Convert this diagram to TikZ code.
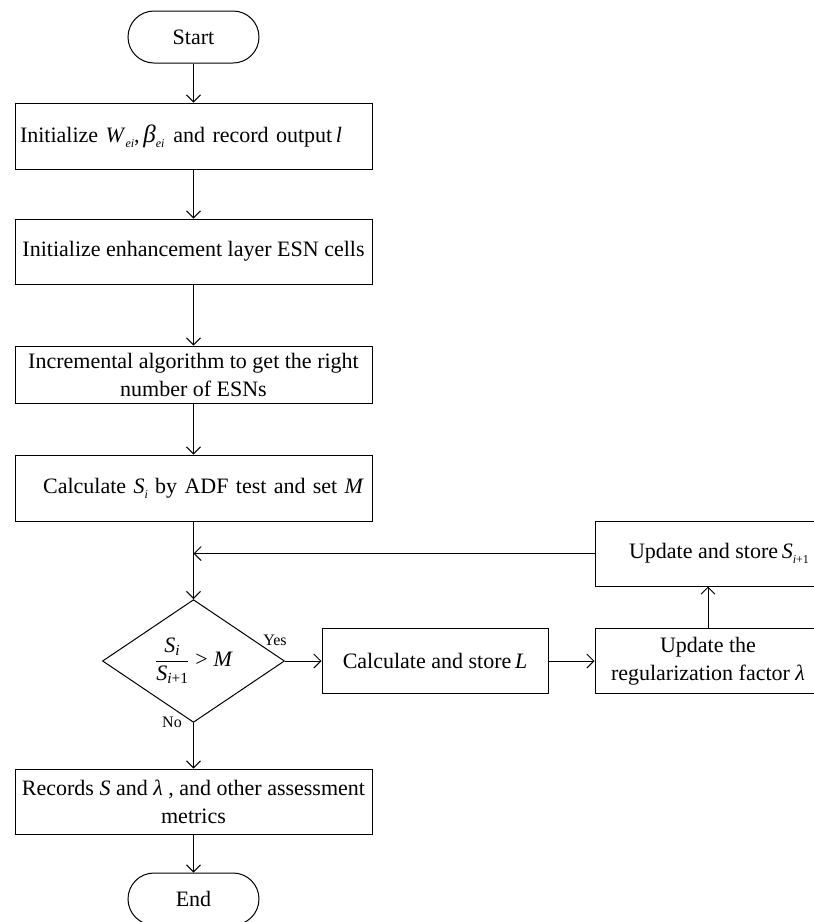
\documentclass[tikz,border=0pt]{standalone}
\usepackage{amsmath}
\usepackage{fontspec}
\setmainfont{Liberation Serif}
\usetikzlibrary{arrows.meta,shapes.geometric}
\tikzset{
  base/.style={draw, line width=1pt, inner sep=5pt, font=\fontsize{22}{28}\selectfont},
  procbox/.style={base, rectangle, minimum width=357pt, minimum height=65pt, align=center},
  sidebox/.style={base, rectangle, minimum width=226pt, minimum height=65pt, align=center},
  term/.style={base, rectangle, rounded corners=26pt, minimum width=131pt, minimum height=52pt},
  decide/.style={base, diamond, minimum width=182pt, minimum height=90pt, inner sep=0pt},
  arr/.style={line width=1pt, -{Straight Barb[length=7pt,width=14pt,line width=1pt]}},
  lbl/.style={font=\fontsize{16}{18}\selectfont, inner sep=0pt}
}
\newcommand{\iv}[1]{\textit{#1}}
\newcommand{\sbs}[1]{\raisebox{-5pt}{\fontsize{12}{12}\selectfont #1}}
\begin{document}
\begin{tikzpicture}[x=1pt,y=-1pt]
\useasboundingbox (0,0) rectangle (814,922);
\clip (0,0) rectangle (814,922);
\node[term] (start) at (193.5,37) {Start};
\node[procbox, text width=347pt, align=left, minimum height=66pt] (b1) at (193.5,136)
  {Initialize \iv{W}\sbs{\itshape ei},\,{\fontsize{25}{28}\selectfont\iv{β}}\sbs{\itshape ei}\hspace{9pt}and record output\,\iv{l}};
\node[procbox] (b2) at (193.5,251.5) {Initialize enhancement layer ESN cells};
\node[procbox, minimum height=57pt] (b3) at (193.5,374.5) {Incremental algorithm to get the right\\number of ESNs};
\node[procbox, text width=341pt, align=right, minimum height=66pt] (b4) at (193.5,488)
  {Calculate \iv{S}\sbs{\itshape i} by ADF test and set \iv{M}};
\node[decide] (dec) at (193.5,661)
  {$\dfrac{\text{\itshape S}_{\text{\itshape i}}}{\text{\itshape S}_{\text{\itshape i}\text{+1}}}\mathrel{\text{>}}\text{\itshape M}$};
\node[sidebox] (calcL) at (435,661) {Calculate and store\,\iv{L}};
\node[sidebox] (lam) at (708,661) {Update the\\regularization factor \iv{λ}};
\node[sidebox] (supd) at (708,553.5) {\hspace*{22pt}Update and store\,\iv{S}\sbs{\textit{i}+1}};
\node[procbox] (rec) at (193.5,801.5) {Records \iv{S} and \iv{λ} , and other assessment\\metrics};
\node[term] (end) at (193.5,899) {End};
\coordinate (join) at (b4.south |- supd.west);
\draw[arr] (start) -- (b1);
\draw[arr] (b1) -- (b2);
\draw[arr] (b2) -- (b3);
\draw[arr] (b3) -- (b4);
\draw[arr] (b4) -- (dec);
\draw[arr] (supd.west) -- (join);
\draw[arr] (dec.east) -- (calcL.west);
\draw[arr] (calcL.east) -- (lam.west);
\draw[arr] (lam.north) -- (supd.south);
\draw[arr] (dec.south) -- (rec.north);
\draw[arr] (rec) -- (end);
\node[lbl] (yes) at (275,640) {Yes};
\node[lbl] (no) at (172,722) {No};
\end{tikzpicture}
\end{document}
